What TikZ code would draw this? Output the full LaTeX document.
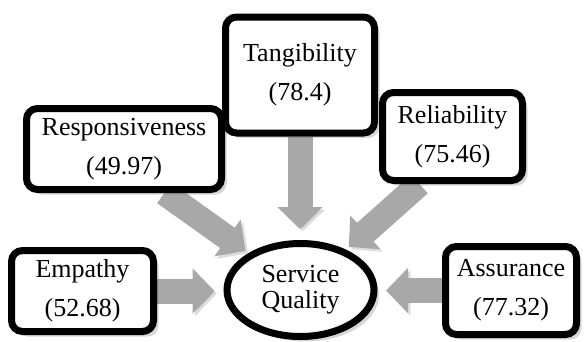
\documentclass[tikz,border=0pt]{standalone}
\usepackage{fontspec}
\setmainfont{Liberation Serif}
\usetikzlibrary{arrows.meta,shadows,shapes.geometric,backgrounds,calc}
\begin{document}
\begin{tikzpicture}[x=1pt,y=-1pt,
  box/.style={draw=black, line width=7pt, rounded corners=11pt, fill=white,
    align=center, inner sep=0pt, font=\fontsize{26}{39}\selectfont,
    drop shadow={shadow xshift=5pt, shadow yshift=-5pt, opacity=0.22, fill=black!70}},
  oval/.style={ellipse, draw=black, line width=7pt, fill=white, align=center,
    inner sep=0pt, font=\fontsize{26}{26}\selectfont,
    drop shadow={shadow xshift=5pt, shadow yshift=-5pt, opacity=0.22, fill=black!70}},
  blockarrow/.style={draw=arrowgray, line width=25pt,
    -{Triangle[length=22pt,width=44pt]},
    preaction={draw=black!45, opacity=0.3, transform canvas={shift={(2.5pt,-2.5pt)}}}},
]
\definecolor{arrowgray}{HTML}{A8A8A8}
\useasboundingbox (0,0) rectangle (588,341);

\node[box, minimum width=149pt, minimum height=116pt] (tang) at (300,75) {Tangibility\\(78.4)};
\node[box, minimum width=195pt, minimum height=81pt] (resp) at (124,149) {Responsiveness\\(49.97)};
\node[box, minimum width=140pt, minimum height=88pt] (rel) at (452.5,136.5) {Reliability\\(75.46)};
\node[box, minimum width=142pt, minimum height=81pt] (emp) at (82.5,291) {Empathy\\(52.68)};
\node[box, minimum width=131pt, minimum height=88pt] (ass) at (511,290.5) {Assurance\\(77.32)};
\node[oval, minimum width=147pt, minimum height=93pt] (sq) at (300.5,290) {Service\\Quality};

\begin{scope}[on background layer]
  \fill[white] (0,0) rectangle (588,341);
  \draw[blockarrow, shorten >=11pt] (tang.south) -- (tang.south |- sq.north);
  \draw[blockarrow, shorten >=4pt] ($(resp.south)!0.4!(resp.south east)$) -- (sq);
  \draw[blockarrow, shorten >=4pt] ($(rel.south)!0.45!(rel.south west)$) -- (sq);
  \draw[blockarrow, shorten >=9pt] (emp.east) -- (emp.east -| sq.west);
  \draw[blockarrow, shorten >=8.5pt] (ass.west) -- (ass.west -| sq.east);
\end{scope}
\end{tikzpicture}
\end{document}
